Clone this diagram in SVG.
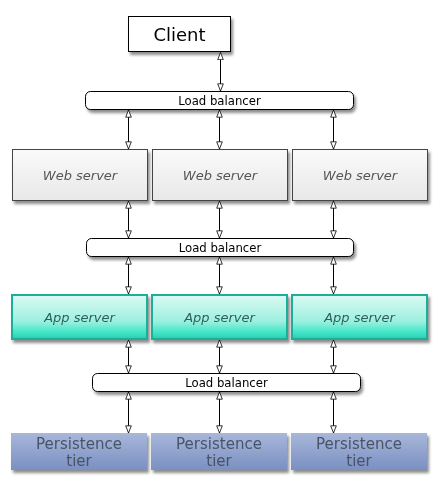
<svg xmlns="http://www.w3.org/2000/svg" width="441" height="482" viewBox="0 0 441 482">
<defs>
<style>
.lb{fill:#fff;stroke:#000;stroke-width:1}
.lbt{font-family:"DejaVu Sans",Verdana,sans-serif;font-size:11.7px;fill:#000;text-anchor:middle}
.web{fill:url(#gWeb);stroke:#444;stroke-width:1}
.webt{font-family:"DejaVu Sans",Verdana,sans-serif;font-size:13px;font-style:italic;fill:#555;text-anchor:middle}
.app{fill:url(#gApp);stroke:#1fae96;stroke-width:2}
.appt{font-family:"DejaVu Sans",Verdana,sans-serif;font-size:13px;font-style:italic;fill:#2f5f58;text-anchor:middle}
.per{fill:url(#gPer)}
.pert{font-family:"DejaVu Sans",Verdana,sans-serif;font-size:15px;fill:#4a5366;text-anchor:middle}
.con line{stroke:#000;stroke-width:1;marker-start:url(#ah);marker-end:url(#ah)}
</style>
<linearGradient id="gWeb" x1="0" y1="0" x2="0" y2="1">
<stop offset="0" stop-color="#fafafa"/><stop offset="1" stop-color="#e8e8e8"/>
</linearGradient>
<linearGradient id="gApp" x1="0" y1="0" x2="0" y2="1">
<stop offset="0" stop-color="#dcfaf3"/><stop offset="0.6" stop-color="#9cf0df"/><stop offset="0.85" stop-color="#3fe6c8"/><stop offset="1" stop-color="#2fc9ad"/>
</linearGradient>
<linearGradient id="gPer" x1="0" y1="0" x2="0" y2="1">
<stop offset="0" stop-color="#a8b7da"/><stop offset="1" stop-color="#7a90c2"/>
</linearGradient>
<filter id="sh" x="-10%" y="-20%" width="130%" height="160%">
<feGaussianBlur in="SourceAlpha" stdDeviation="1.5"/>
<feOffset dx="2" dy="3" result="b"/>
<feComponentTransfer><feFuncA type="linear" slope="0.45"/></feComponentTransfer>
<feMerge><feMergeNode/><feMergeNode in="SourceGraphic"/></feMerge>
</filter>
<marker id="ah" viewBox="0 0 10 8" refX="9.5" refY="4" markerWidth="8" markerHeight="6.5" markerUnits="userSpaceOnUse" orient="auto-start-reverse">
<path d="M0.5,0.5 L9.5,4 L0.5,7.5 Z" fill="#fff" stroke="#000" stroke-width="1"/>
</marker>
</defs>
<rect width="441" height="482" fill="#fff"/>

<g id="client" filter="url(#sh)">
<rect x="128.5" y="16.5" width="102" height="35" fill="#fff" stroke="#000"/>
<text x="179.5" y="40.5" font-family="DejaVu Sans, Verdana, sans-serif" font-size="18" text-anchor="middle" fill="#000">Client</text>
</g>

<g id="lb1" filter="url(#sh)">
<rect class="lb" x="85.5" y="91.5" width="268" height="18" rx="5"/>
<text class="lbt" x="219.5" y="104.5">Load balancer</text>
</g>

<g id="web1" filter="url(#sh)"><rect class="web" x="12.5" y="149.5" width="135" height="51"/><text class="webt" x="80" y="179.5">Web server</text></g>
<g id="web2" filter="url(#sh)"><rect class="web" x="152.5" y="149.5" width="135" height="51"/><text class="webt" x="220" y="179.5">Web server</text></g>
<g id="web3" filter="url(#sh)"><rect class="web" x="292.5" y="149.5" width="135" height="51"/><text class="webt" x="360" y="179.5">Web server</text></g>

<g id="lb2" filter="url(#sh)">
<rect class="lb" x="86.5" y="238.5" width="267" height="18" rx="5"/>
<text class="lbt" x="220" y="252">Load balancer</text>
</g>

<g id="app1" filter="url(#sh)"><rect class="app" x="12" y="295" width="135" height="44"/><text class="appt" x="79.5" y="321.5">App server</text></g>
<g id="app2" filter="url(#sh)"><rect class="app" x="152" y="295" width="135" height="44"/><text class="appt" x="219.5" y="321.5">App server</text></g>
<g id="app3" filter="url(#sh)"><rect class="app" x="292" y="295" width="135" height="44"/><text class="appt" x="359.5" y="321.5">App server</text></g>

<g id="lb3" filter="url(#sh)">
<rect class="lb" x="92.5" y="373.5" width="268" height="18" rx="5"/>
<text class="lbt" x="226.5" y="386.5">Load balancer</text>
</g>

<g id="per1" filter="url(#sh)"><rect class="per" x="11" y="433" width="136" height="37"/><text class="pert" x="79" y="448.5">Persistence</text><text class="pert" x="79" y="466">tier</text></g>
<g id="per2" filter="url(#sh)"><rect class="per" x="151" y="433" width="136" height="37"/><text class="pert" x="219" y="448.5">Persistence</text><text class="pert" x="219" y="466">tier</text></g>
<g id="per3" filter="url(#sh)"><rect class="per" x="291" y="433" width="136" height="37"/><text class="pert" x="359" y="448.5">Persistence</text><text class="pert" x="359" y="466">tier</text></g>

<g id="connectors" class="con">
<line x1="220.5" y1="52.5" x2="220.5" y2="91"/>
<line x1="128.5" y1="110" x2="128.5" y2="149"/>
<line x1="219.5" y1="110" x2="219.5" y2="149"/>
<line x1="333.5" y1="110" x2="333.5" y2="149"/>
<line x1="128.5" y1="201" x2="128.5" y2="238"/>
<line x1="219.5" y1="201" x2="219.5" y2="238"/>
<line x1="333.5" y1="201" x2="333.5" y2="238"/>
<line x1="128.5" y1="257" x2="128.5" y2="294"/>
<line x1="219.5" y1="257" x2="219.5" y2="294"/>
<line x1="333.5" y1="257" x2="333.5" y2="294"/>
<line x1="128.5" y1="340" x2="128.5" y2="373"/>
<line x1="219.5" y1="340" x2="219.5" y2="373"/>
<line x1="333.5" y1="340" x2="333.5" y2="373"/>
<line x1="128.5" y1="392" x2="128.5" y2="433"/>
<line x1="219.5" y1="392" x2="219.5" y2="433"/>
<line x1="333.5" y1="392" x2="333.5" y2="433"/>
</g>
</svg>
